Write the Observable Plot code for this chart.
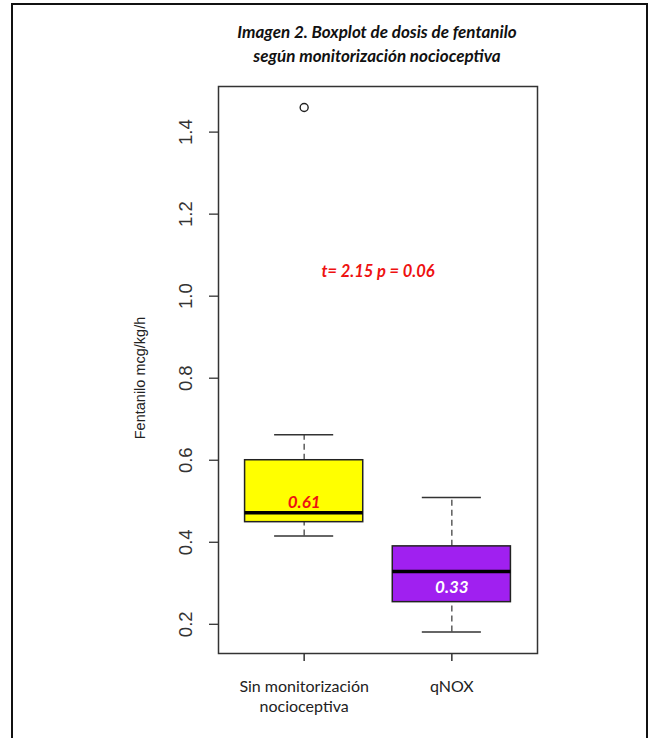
<!DOCTYPE html>
<html><head><meta charset="utf-8">
<script src="https://cdn.jsdelivr.net/npm/d3@7"></script>
<script src="https://cdn.jsdelivr.net/npm/@observablehq/plot@0.6"></script>
<style>
body{margin:0;background:#fff;}
#wrap{position:relative;width:651px;height:738px;overflow:hidden;background:#fff;}
#chart{position:absolute;left:0;top:0;}
#border{position:absolute;left:11px;top:3px;width:637px;height:800px;border:2px solid #111;box-sizing:border-box;pointer-events:none;}
#title{position:absolute;left:177px;width:400px;top:20px;text-align:center;font-family:Lato,sans-serif;font-style:italic;font-weight:bold;font-size:17px;line-height:24px;color:#111;}
</style></head><body>
<div id="wrap"><div id="chart"></div><div id="border"></div><div id="title">Imagen 2. Boxplot de dosis de fentanilo<br>según monitorización nocioceptiva</div></div>
<script>
// ---- data ----
const categories = ["Sin monitorización\nnocioceptiva", "qNOX"];
const positions = [1, 2];
const whiskerLow = [0.415, 0.181];
const q1 = [0.449, 0.254];
const median = [0.472, 0.329];
const q3 = [0.600, 0.390];
const whiskerHigh = [0.662, 0.509];
const outlierGroup = [1];
const outlierValue = [1.46];
const boxLabels = ["0.61", "0.33"];
const boxLabelValue = [0.497, 0.29];
const testText = ["t= 2.15 p = 0.06"];
const testX = [1.5];
const testY = [1.06];
const yTicks = [0.2, 0.4, 0.6, 0.8, 1.0, 1.2, 1.4];
const yLabel = "Fentanilo mcg/kg/h";

const idx = d3.range(categories.length);
const oIdx = d3.range(outlierValue.length);
const half = 0.4, cap = 0.2;

const plot = Plot.plot({
  width: 651, height: 738,
  marginLeft: 218, marginRight: 114, marginTop: 86, marginBottom: 85,
  style: {background: "transparent"},
  x: {type: "linear", domain: [0.42, 2.58], axis: null},
  y: {domain: [0.1288, 1.5112], axis: null},
  color: {domain: categories, range: ["#ffff00", "#a020f0"]},
  marks: [
    // whiskers
    Plot.ruleX(idx, {x: i => positions[i], y1: i => q3[i], y2: i => whiskerHigh[i], stroke: "#444", strokeWidth: 1.3, strokeDasharray: "6,4"}),
    Plot.ruleX(idx, {x: i => positions[i], y1: i => whiskerLow[i], y2: i => q1[i], stroke: "#444", strokeWidth: 1.3, strokeDasharray: "6,4"}),
    Plot.ruleY(idx, {y: i => whiskerHigh[i], x1: i => positions[i] - cap, x2: i => positions[i] + cap, stroke: "#333", strokeWidth: 1.5}),
    Plot.ruleY(idx, {y: i => whiskerLow[i], x1: i => positions[i] - cap, x2: i => positions[i] + cap, stroke: "#333", strokeWidth: 1.5}),
    // boxes
    Plot.rect(idx, {x1: i => positions[i] - half, x2: i => positions[i] + half, y1: i => q1[i], y2: i => q3[i], fill: i => categories[i], stroke: "#222", strokeWidth: 1.5}),
    Plot.ruleY(idx, {y: i => median[i], x1: i => positions[i] - half, x2: i => positions[i] + half, stroke: "#000", strokeWidth: 3.5}),
    // outliers
    Plot.dot(oIdx, {x: i => outlierGroup[i], y: i => outlierValue[i], r: 4, stroke: "#222", strokeWidth: 1.4, fill: "none"}),
    // box labels
    Plot.text(idx, {x: i => positions[i], y: i => boxLabelValue[i], text: i => boxLabels[i], fill: i => (i === 0 ? "#ee1111" : "#ffffff"), fontSize: 17, fontWeight: "bold", fontStyle: "italic", fontFamily: "Lato"}),
    // test annotation
    Plot.text(testText, {x: (d, i) => testX[i], y: (d, i) => testY[i], text: d => d, fill: "#ee1111", fontSize: 16.5, fontWeight: "bold", fontStyle: "italic", fontFamily: "Lato"}),
    // frame
    Plot.frame({stroke: "#333", strokeWidth: 1.5}),
    // axes
    Plot.axisY(yTicks, {tickSize: 9, tickRotate: -90, tickPadding: 18, tickFormat: d3.format(".1f"), fontSize: 18.5, fontFamily: "Liberation Sans", fill: "#333", stroke: "#333", strokeWidth: 1.3, label: null}),
    Plot.axisX(positions, {tickSize: 8, tickPadding: 16, tickFormat: i => categories[i - 1], fontSize: 16, fontFamily: "Lato", lineHeight: 1.27, fill: "#222", stroke: "#333", strokeWidth: 1.5, label: null}),
    Plot.text([yLabel], {frameAnchor: "left", textAnchor: "middle", rotate: -90, dx: -78, dy: 8, text: d => d, fontSize: 14.5, fontFamily: "Liberation Sans", fill: "#222"})
  ]
});
document.getElementById("chart").appendChild(plot);
</script>
</body></html>
